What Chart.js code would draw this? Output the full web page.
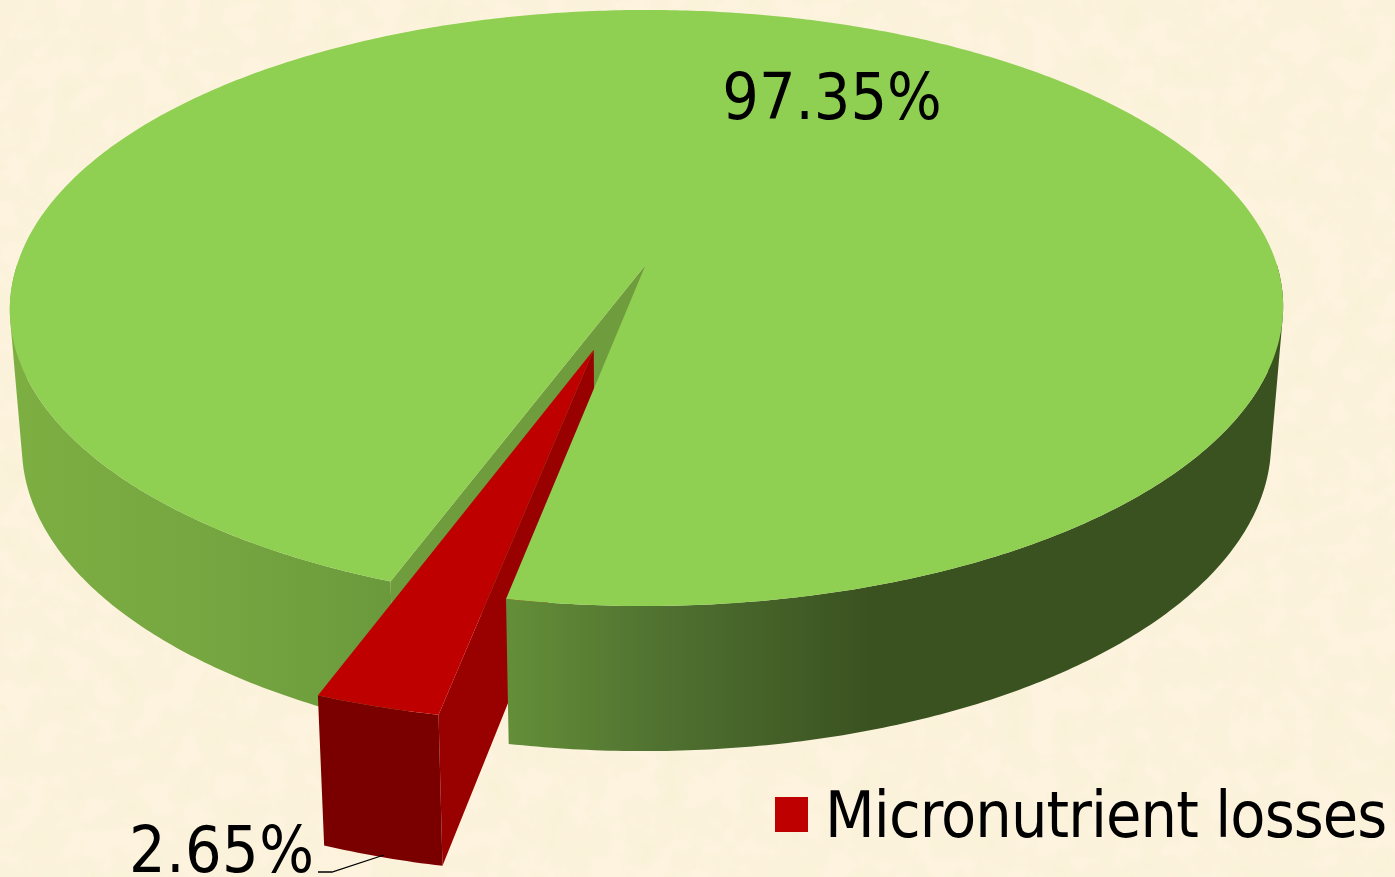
<!DOCTYPE html>
<html>
<head>
<meta charset="utf-8">
<style>
html,body{margin:0;padding:0;width:1395px;height:877px;overflow:hidden;background-color:#fdf3de;}
body{background-image:url("data:image/svg+xml,%3Csvg xmlns='http://www.w3.org/2000/svg' width='1395' height='877'%3E%3Cfilter id='n' x='0' y='0' width='100%25' height='100%25'%3E%3CfeTurbulence type='fractalNoise' baseFrequency='0.035' numOctaves='3' seed='4'/%3E%3CfeColorMatrix values='0 0 0 0 0.93 0 0 0 0 0.87 0 0 0 0 0.66 0.9 0.9 0 0 -0.72'/%3E%3C/filter%3E%3Crect width='1395' height='877' filter='url(%23n)'/%3E%3C/svg%3E");}
canvas{display:block;position:absolute;left:0;top:0;}
</style>
<script src="https://cdn.jsdelivr.net/npm/chart.js@4/dist/chart.umd.js"></script>
</head>
<body>
<canvas id="c" width="1395" height="877"></canvas>
<script>
const categories = ["Micronutrient losses", "Other"];
const values = [2.65, 97.35];
const valueLabels = ["2.65%", "97.35%"];
const legendEntries = ["Micronutrient losses"];

const FONT = '"DejaVu Sans Condensed","DejaVu Sans",sans-serif';
const view = {cx:647, R:630, a:253.6, b:265, c:-0.1443, sx:0.981, ox:647, hA:128.7, hB:1.027, hC:0.03, hY:610};
const explode = 0.289;
const colors = {
  top:'#8fcf52', notch:'#6f9c3c',
  redTop:'#bf0000', redSide:'#990000', redFront:'#7a0000'
};

function topPt(u,v){
  const w = 1 + view.c*v;
  const skew = -3.5*Math.max(v,0) - 1.5*Math.max(1-u*u-v*v,0);
  return [view.cx + view.R*u/w + skew, (view.a*v + view.b)/w];
}
function botPt(u,v){
  const p = topPt(u,v);
  return [view.ox + view.sx*(p[0]-view.ox), view.hB*p[1] + view.hA + view.hC*Math.max(p[1]-view.hY,0)];
}
function arcPts(fn, a0, a1, ox, oy){
  const out = [], n = Math.max(2, Math.ceil(Math.abs(a1-a0)/0.01));
  for(let i=0;i<=n;i++){
    const t = a0 + (a1-a0)*i/n;
    out.push(fn(ox+Math.cos(t), oy+Math.sin(t)));
  }
  return out;
}
function fillPoly(ctx, pts, style){
  ctx.beginPath();
  pts.forEach((p,i)=> i? ctx.lineTo(p[0],p[1]) : ctx.moveTo(p[0],p[1]));
  ctx.closePath();
  ctx.fillStyle = style;
  ctx.fill();
}
function area(q){
  let s = 0;
  for(let i=0;i<q.length;i++){
    const p = q[i], r = q[(i+1)%q.length];
    s += p[0]*r[1] - r[0]*p[1];
  }
  return s;
}
/* one path made of same-winding quads, so the sweep fills as a seamless union */
function wall(ctx, a0, a1, ox, oy, style){
  const t = arcPts(topPt, a0, a1, ox, oy), b = arcPts(botPt, a0, a1, ox, oy);
  ctx.beginPath();
  for(let i=0;i<t.length-1;i++){
    let q = [t[i], t[i+1], b[i+1], b[i]];
    if(area(q) < 0) q = q.slice().reverse();
    ctx.moveTo(q[0][0],q[0][1]);
    for(let k=1;k<4;k++) ctx.lineTo(q[k][0],q[k][1]);
    ctx.closePath();
  }
  ctx.fillStyle = style;
  ctx.fill('nonzero');
}
function hGrad(ctx, x0, x1, stops){
  const g = ctx.createLinearGradient(x0,0,x1,0);
  stops.forEach(s=>g.addColorStop(s[0],s[1]));
  return g;
}

const pie3d = {
  id:'pie3d',
  beforeDatasetDraw(chart, args){
    const ctx = chart.ctx;
    const arcs = chart.getDatasetMeta(args.index).data;
    const red = arcs[0], green = arcs[1];
    const r0 = red.startAngle, r1 = red.endAngle;
    const g0 = green.startAngle, g1 = green.endAngle;
    const mid = (r0+r1)/2;
    const ox = Math.cos(mid)*explode, oy = Math.sin(mid)*explode;

    ctx.save();
    /* green outer wall, left of the gap */
    wall(ctx, g0, Math.PI, 0, 0, hGrad(ctx, 20, 400, [[0,'#7dae42'],[0.55,'#75a540'],[1,'#6a993c']]));
    /* green wall facing the gap */
    fillPoly(ctx, [topPt(0,0), topPt(Math.cos(g0),Math.sin(g0)), botPt(Math.cos(g0),Math.sin(g0)), botPt(0,0)], colors.notch);

    /* exploded slice */
    fillPoly(ctx, [topPt(ox,oy), topPt(ox+Math.cos(r0),oy+Math.sin(r0)), botPt(ox+Math.cos(r0),oy+Math.sin(r0)), botPt(ox,oy)], colors.redSide);
    wall(ctx, r0, r1, ox, oy, colors.redFront);
    fillPoly(ctx, [topPt(ox,oy)].concat(arcPts(topPt, r0, r1, ox, oy)), colors.redTop);

    /* green outer wall, right of the gap */
    wall(ctx, g1-2*Math.PI, 0, 0, 0, hGrad(ctx, 505, 870, [[0,'#648f38'],[0.45,'#4f7030'],[1,'#3a5220']]));

    /* green top face */
    fillPoly(ctx, [topPt(0,0)].concat(arcPts(topPt, g0, g1, 0, 0)), colors.top);

    /* value labels */
    ctx.fillStyle = '#000';
    ctx.textBaseline = 'alphabetic';
    ctx.font = '64px ' + FONT;
    ctx.textAlign = 'center';
    ctx.fillText(valueLabels[1], 832, 119);
    ctx.textAlign = 'left';
    ctx.letterSpacing = '0.5px';
    ctx.fillText(valueLabels[0], 129, 872);
    ctx.strokeStyle = '#000';
    ctx.lineWidth = 1.3;
    ctx.beginPath();
    ctx.moveTo(318,872); ctx.lineTo(332,872); ctx.lineTo(384,855);
    ctx.stroke();

    /* legend */
    ctx.fillStyle = colors.redTop;
    ctx.fillRect(775,797,33,35);
    ctx.fillStyle = '#000';
    ctx.letterSpacing = '-0.9px';
    ctx.fillText(legendEntries[0], 825, 837);
    ctx.restore();
    return false;
  }
};

new Chart(document.getElementById('c'), {
  type:'pie',
  data:{
    labels:categories,
    datasets:[{data:values, backgroundColor:[colors.redTop, colors.top], borderWidth:0}]
  },
  options:{
    responsive:false,
    animation:false,
    events:[],
    rotation:190.8,
    plugins:{legend:{display:false}, tooltip:{enabled:false}}
  },
  plugins:[pie3d]
});
</script>
</body>
</html>
